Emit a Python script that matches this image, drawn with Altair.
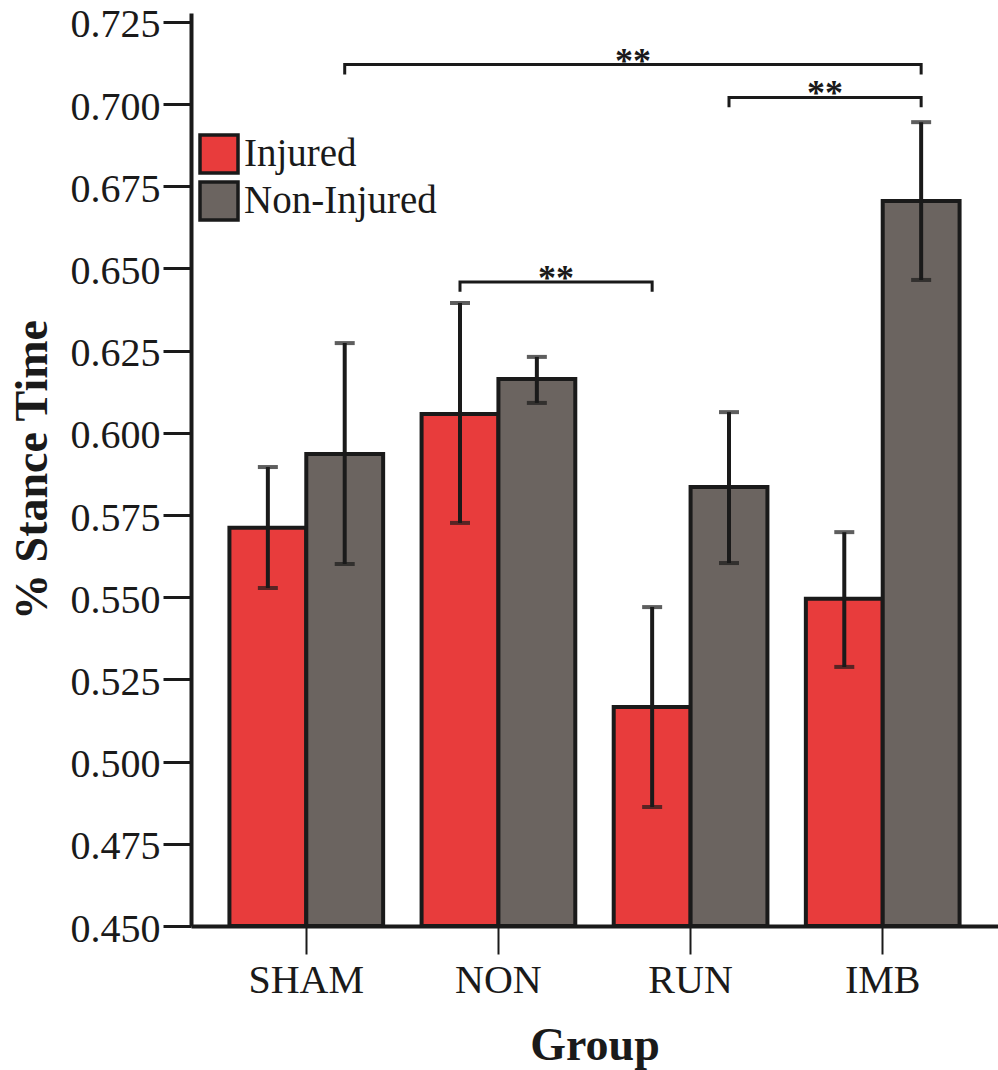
import altair as alt
import pandas as pd

# ---------------- data ----------------
groups = ["SHAM", "NON", "RUN", "IMB"]
conditions = ["Injured", "Non-Injured"]

injured_mean = [0.5711, 0.6057, 0.5166, 0.5495]
injured_lo = [0.5528, 0.5726, 0.4862, 0.5288]
injured_hi = [0.5896, 0.6395, 0.5470, 0.5698]

noninj_mean = [0.5936, 0.6164, 0.5835, 0.6705]
noninj_lo = [0.5601, 0.6091, 0.5604, 0.6465]
noninj_hi = [0.6273, 0.6231, 0.6063, 0.6945]

bracket_from = ["SHAM", "RUN", "NON"]
bracket_to = ["IMB", "IMB", "RUN"]
bracket_side = ["Non-Injured", "Non-Injured", "Injured"]
bracket_level = [0.7120, 0.7020, 0.6459]
bracket_label = ["**", "**", "**"]
bracket_drop = 0.003

y_ticks = [0.450, 0.475, 0.500, 0.525, 0.550, 0.575, 0.600, 0.625, 0.650, 0.675, 0.700, 0.725]
y_min, y_max = 0.450, 0.7277

# ---------------- styling ----------------
FONT = "Liberation Serif"
INK = "#1a1a1a"
RED = "#E83C3C"
GRAY = "#6B6460"
PAD_IN, PAD_OUT = 0.2, 0.2

rows = []
for i, g in enumerate(groups):
    rows.append(dict(group=g, cond="Injured", mean=injured_mean[i], lo=injured_lo[i], hi=injured_hi[i], base=y_min))
    rows.append(dict(group=g, cond="Non-Injured", mean=noninj_mean[i], lo=noninj_lo[i], hi=noninj_hi[i], base=y_min))
bars_df = pd.DataFrame(rows)

x_scale = alt.Scale(domain=groups, paddingInner=PAD_IN, paddingOuter=PAD_OUT)
off_scale = alt.Scale(domain=conditions, paddingInner=0, paddingOuter=0)
y_scale = alt.Scale(domain=[y_min, y_max], zero=False, nice=False)

x_axis = alt.Axis(
    title="Group", titleFont=FONT, titleFontSize=46, titleFontWeight="bold", titleColor=INK,
    titlePadding=23, labelFont=FONT, labelFontSize=40, labelColor=INK, labelAngle=0,
    labelPadding=6, tickSize=28, tickWidth=2, tickColor=INK, domainColor=INK, domainWidth=4,
    grid=False,
)
y_axis = alt.Axis(
    title="% Stance Time", titleFont=FONT, titleFontSize=46, titleFontWeight="bold", titleColor=INK,
    titlePadding=14, labelFont=FONT, labelFontSize=40, labelColor=INK, labelPadding=3,
    labelOffset=3, values=y_ticks, format=".3f", tickSize=28, tickWidth=3, tickColor=INK,
    domainColor=INK, domainWidth=4, grid=False,
)

X = alt.X("group:N", scale=x_scale, sort=groups, axis=x_axis)
XO = alt.XOffset("cond:N", scale=off_scale, sort=conditions)

bars = alt.Chart(bars_df).mark_bar(stroke=INK, strokeWidth=4).encode(
    x=X,
    xOffset=XO,
    y=alt.Y("mean:Q", scale=y_scale, axis=y_axis),
    y2="base:Q",
    color=alt.Color(
        "cond:N",
        scale=alt.Scale(domain=conditions, range=[RED, GRAY]),
        legend=alt.Legend(
            title=None, orient="none", legendX=7, legendY=120, padding=0,
            symbolType="square", symbolSize=1444, symbolStrokeColor=INK, symbolStrokeWidth=3.5,
            symbolOpacity=1, labelFont=FONT, labelFontSize=39, labelColor=INK,
            labelOffset=4, rowPadding=-6, labelLimit=400,
        ),
    ),
)

err = alt.Chart(bars_df).mark_rule(color=INK, strokeWidth=4).encode(
    x=alt.X("group:N", scale=x_scale, sort=groups),
    xOffset=XO,
    y=alt.Y("lo:Q", scale=y_scale),
    y2="hi:Q",
)

caps = alt.Chart(bars_df).transform_fold(["lo", "hi"], as_=["end", "val"]).mark_tick(
    color=INK, thickness=4, size=20
).encode(
    x=alt.X("group:N", scale=x_scale, sort=groups),
    xOffset=XO,
    y=alt.Y("val:Q", scale=y_scale),
)

# ---------------- significance brackets ----------------
def band_pos(cond):
    return (conditions.index(cond) + 0.5) / len(conditions)

line_layers = []
text_rows = []
for side in conditions:
    pts = []
    for k in range(len(bracket_from)):
        if bracket_side[k] != side:
            continue
        lv = bracket_level[k]
        pts += [
            dict(bid=k, group=bracket_from[k], y=lv - bracket_drop, o=0),
            dict(bid=k, group=bracket_from[k], y=lv, o=1),
            dict(bid=k, group=bracket_to[k], y=lv, o=2),
            dict(bid=k, group=bracket_to[k], y=lv - bracket_drop, o=3),
        ]
    if not pts:
        continue
    line_layers.append(
        alt.Chart(pd.DataFrame(pts)).mark_line(color=INK, strokeWidth=3, strokeJoin="miter", strokeCap="butt").encode(
            x=alt.X("group:N", scale=x_scale, sort=groups, bandPosition=band_pos(side)),
            y=alt.Y("y:Q", scale=y_scale),
            detail="bid:N",
            order="o:Q",
        )
    )

# label centres: midpoint of bracket ends, expressed as (group, bandPosition)
bw = 1 - PAD_IN
for k in range(len(bracket_from)):
    bp = band_pos(bracket_side[k])
    a = groups.index(bracket_from[k]) + PAD_OUT + bw * bp
    b = groups.index(bracket_to[k]) + PAD_OUT + bw * bp
    m = (a + b) / 2
    j = int((m - PAD_OUT) // 1)
    pos = round((m - PAD_OUT - j) / bw, 4)
    text_rows.append(dict(group=groups[j], pos=pos, y=bracket_level[k], label=bracket_label[k]))
text_df = pd.DataFrame(text_rows)

text_layers = []
for pos in sorted(text_df["pos"].unique()):
    sub = text_df[text_df["pos"] == pos]
    text_layers.append(
        alt.Chart(sub).mark_text(font=FONT, fontSize=36, fontWeight="bold", color=INK,
                                 baseline="alphabetic", align="center", dy=8).encode(
            x=alt.X("group:N", scale=x_scale, sort=groups, bandPosition=float(pos)),
            y=alt.Y("y:Q", scale=y_scale),
            text="label:N",
        )
    )

chart = alt.layer(bars, err, caps, *line_layers, *text_layers).properties(
    width=807,
    height=913,
    autosize=alt.AutoSizeParams(type="none"),
    padding={"left": 191, "top": 13, "right": 0, "bottom": 144},
    background="white",
).configure_view(stroke=None)

chart.save("out.html", embed_options={"renderer": "svg", "actions": False})
